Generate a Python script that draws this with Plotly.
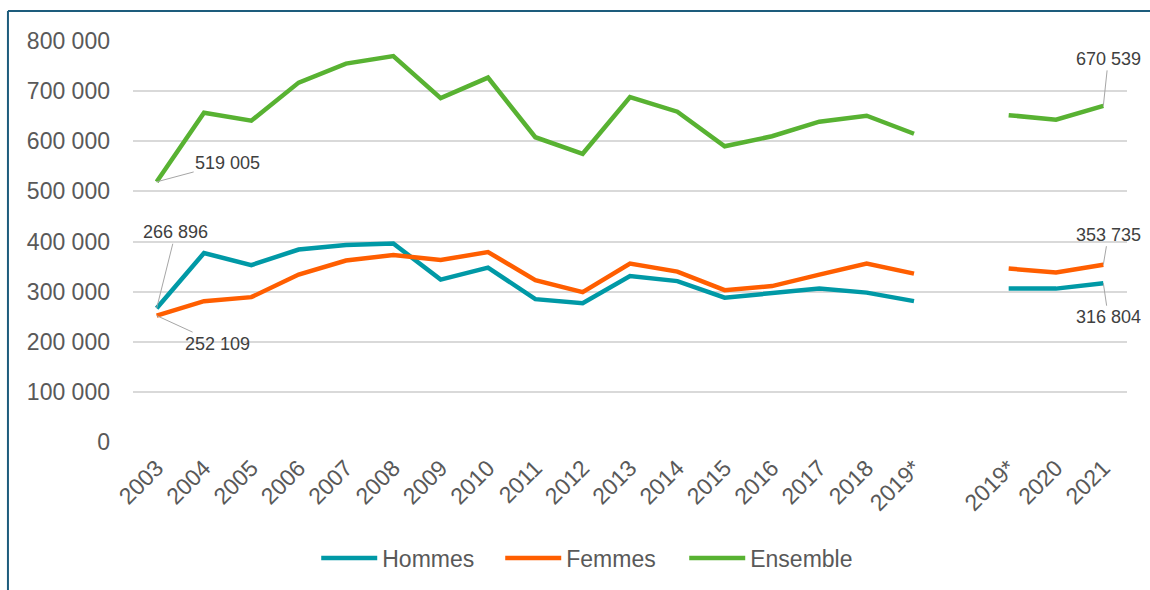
import plotly.graph_objects as go

categories = ["2003", "2004", "2005", "2006", "2007", "2008", "2009", "2010", "2011",
              "2012", "2013", "2014", "2015", "2016", "2017", "2018", "2019*", "",
              "2019*", "2020", "2021"]
hommes = [266896, 377000, 353000, 384000, 393000, 396000, 324000, 348000, 285000,
          277000, 331000, 321000, 288000, 297000, 306000, 298000, 281000, None,
          306000, 306000, 316804]
femmes = [252109, 281000, 289000, 334000, 362000, 373000, 363000, 379000, 323000,
          299000, 356000, 340000, 303000, 311000, 334000, 356000, 336000, None,
          346000, 338000, 353735]
ensemble = [519005, 657000, 641000, 717000, 755000, 770000, 686000, 727000, 608000,
            575000, 688000, 659000, 590000, 610000, 639000, 651000, 615000, None,
            652000, 643000, 670539]
y_ticks = [0, 100000, 200000, 300000, 400000, 500000, 600000, 700000, 800000]
y_ticktext = ["0", "100 000", "200 000", "300 000", "400 000", "500 000",
              "600 000", "700 000", "800 000"]

xs = list(range(len(categories)))
tick_idx = [i for i, c in enumerate(categories) if c]
tick_lab = [categories[i] for i in tick_idx]

FONT = "Liberation Sans, Arial, sans-serif"
fig = go.Figure()
series = [("Hommes", hommes, "#0099A6"), ("Femmes", femmes, "#FF5E00"),
          ("Ensemble", ensemble, "#58B232")]
for name, vals, col in series:
    fig.add_trace(go.Scatter(x=xs, y=vals, name=name, mode="lines",
                             line=dict(color=col, width=4.5), connectgaps=False))

def ann(i, vals, txt, ax, ay):
    fig.add_annotation(x=xs[i], y=vals[i], text=txt, showarrow=True, arrowhead=0,
                       arrowwidth=1, arrowcolor="#A6A6A6", ax=ax, ay=ay,
                       font=dict(family=FONT, size=18, color="#404040"), standoff=0)

ann(0, ensemble, "519 005", 71, -19)
ann(0, hommes, "266 896", 19, -76)
ann(0, femmes, "252 109", 61, 28)
ann(20, ensemble, "670 539", 5, -47)
ann(20, femmes, "353 735", 5, -30)
ann(20, hommes, "316 804", 5, 34)

# outer frame (left and top edges)
fig.add_shape(type="line", xref="paper", yref="paper", x0=-0.1258, x1=-0.1258,
              y0=1.0746, y1=-0.40, line=dict(color="#1D5C7C", width=2))
fig.add_shape(type="line", xref="paper", yref="paper", x0=-0.1258, x1=1.05,
              y0=1.0746, y1=1.0746, line=dict(color="#1D5C7C", width=2))

fig.update_layout(
    width=1150, height=590,
    margin=dict(l=133, r=23, t=41, b=147),
    paper_bgcolor="white", plot_bgcolor="white",
    font=dict(family=FONT, color="#595959"),
    showlegend=True,
    legend=dict(orientation="h", x=0.462, xanchor="center", y=-0.286, yanchor="middle",
                font=dict(family=FONT, size=23, color="#595959"), itemwidth=56,
                entrywidth=113, entrywidthmode="pixels"),
    xaxis=dict(range=[-0.5, 20.5], tickmode="array", tickvals=tick_idx, ticktext=tick_lab,
               tickangle=-45, tickfont=dict(size=23, color="#595959"),
               showgrid=False, zeroline=False, showline=False, ticks="",
               ticklabelstandoff=7),
    yaxis=dict(range=[0, 800000], tickmode="array", tickvals=y_ticks, ticktext=y_ticktext,
               tickfont=dict(size=23, color="#595959"), showgrid=True,
               gridcolor="#D9D9D9", gridwidth=1.5, zeroline=False, showline=False,
               ticks="", ticklabelstandoff=22),
)
fig.write_html("out.html", config={"displayModeBar": False},
               post_script="document.body.style.margin='0';document.body.style.overflow='hidden';")
